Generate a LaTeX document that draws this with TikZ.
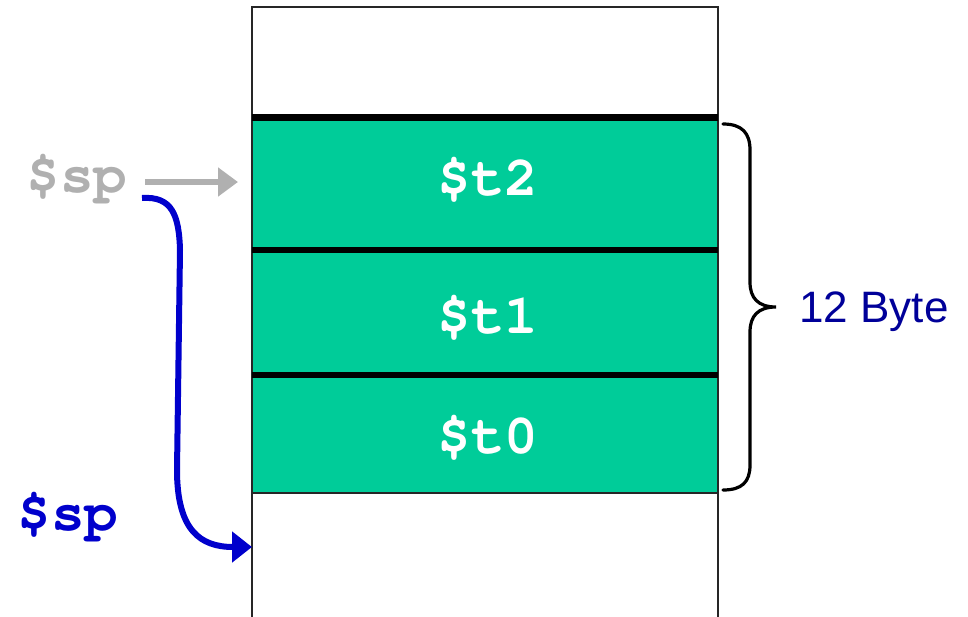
\documentclass[tikz,border=0pt]{standalone}
\usepackage{fontspec}
\setmainfont{Liberation Sans}
\newfontfamily\codefont{texgyrecursor}[Extension=.otf,UprightFont=*-regular,BoldFont=*-bold]
\usetikzlibrary{arrows.meta}
\definecolor{cellteal}{RGB}{0,204,153}
\definecolor{oldgray}{RGB}{176,176,176}
\definecolor{spblue}{RGB}{0,0,204}
\definecolor{labelblue}{RGB}{0,0,153}
\begin{document}
\begin{tikzpicture}[x=1pt,y=-1pt,
  celltext/.style={text=white,font=\codefont\bfseries\fontsize{56}{56}\selectfont},
  regtext/.style={font=\codefont\bfseries\fontsize{56}{56}\selectfont},
  frame/.style={draw=black!85,line width=2.6pt},
  sep/.style={draw=black,line width=6.5pt},
  bracestyle/.style={draw=black,line width=3.2pt,line cap=round}]
\useasboundingbox (0,0) rectangle (968,616);
% cells
\fill[cellteal] (252,117) rectangle (718,493);
\draw[frame] (252,625) -- (252,7) -- (718,7) -- (718,625);
\draw[frame] (252,493) -- (718,493);
\draw[sep] (252,117.5) -- (718,117.5);
\draw[sep] (252,250) -- (718,250);
\draw[sep] (252,375) -- (718,375);
\node[celltext] (t2) at (488,180) {\$t2};
\node[celltext] (t1) at (488,318) {\$t1};
\node[celltext] (t0) at (488,438) {\$t0};
% stack pointers
\node[regtext,text=oldgray] (spold) at (77,179) {\$sp};
\node[regtext,text=spblue] (spnew) at (68,517) {\$sp};
\coordinate (t2in) at (238,182);
\coordinate (lowin) at (252,547);
\draw[oldgray,line width=5.5pt,-{Triangle[length=20pt,width=28pt]}] (145,182) -- (t2in);
\draw[spblue,line width=6pt,-{Triangle[length=20pt,width=30pt]}]
  (142,198) .. controls (172,196) and (179,215) .. (180,250)
  -- (177,470) .. controls (177,530) and (200,547) .. (lowin);
% brace
\draw[bracestyle] (723,124) .. controls (742,124) and (750,133) .. (750,150)
  -- (750,282) .. controls (750,298) and (758,307) .. (776,307)
  .. controls (758,307) and (750,316) .. (750,332)
  -- (750,465) .. controls (750,482) and (742,490) .. (723,490);
\node[text=labelblue,font=\fontsize{44}{44}\selectfont] (bytes) at (874,312) {12 Byte};
\end{tikzpicture}
\end{document}
